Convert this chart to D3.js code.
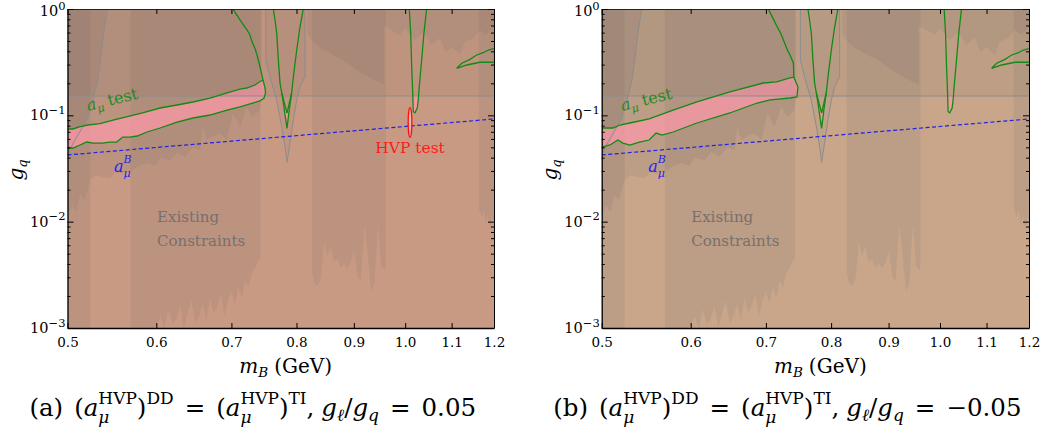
<!DOCTYPE html>
<html><head><meta charset="utf-8">
<script src="https://cdn.jsdelivr.net/npm/d3@7"></script>
<style>body{margin:0;background:#fff}</style>
</head><body><svg id="c" width="1043" height="439"></svg>
<script>
// ---------- DATA ----------
const xTicks=[0.5,0.6,0.7,0.8,0.9,1.0,1.1,1.2];
const xTickLabels=["0.5","0.6","0.7","0.8","0.9","1.0","1.1","1.2"];
const yTicks=[0.001,0.01,0.1,1];
const yTickExp=["\u22123","\u22122","\u22121","0"];

// existing-constraint columns (mass, lower edge of shading)
const colA_m=[0.5,0.524];
const colA_lo=[0.001,0.001];
const colB_m=[0.569,0.575,0.585,0.595,0.6,0.605,0.61,0.615,0.62,0.625,0.63,0.635,0.64,0.645,0.65,0.655,0.66,0.665,0.67,0.675,0.68,0.685,0.69,0.695,0.7,0.705,0.71,0.715,0.72,0.725,0.73,0.735,0.74,0.743];
const colB_lo=[0.001,0.001,0.001,0.001,0.00105,0.0013,0.001,0.0015,0.0011,0.0012,0.0016,0.001,0.0014,0.0018,0.0011,0.0013,0.0017,0.0012,0.0019,0.0014,0.0016,0.0021,0.0013,0.0018,0.0022,0.0017,0.0024,0.0019,0.0028,0.0024,0.0033,0.0037,0.0043,0.0046];
const colC_m=[0.826,0.829,0.835,0.841,0.847,0.852,0.858,0.864,0.870,0.876,0.882,0.889,0.895,0.901,0.907,0.913,0.920,0.926,0.933,0.939,0.946,0.952,0.959,0.961];
const colC_lo=[0.0034,0.0027,0.0025,0.0029,0.0065,0.0048,0.0058,0.0042,0.0045,0.0037,0.0040,0.0036,0.0043,0.0052,0.0030,0.0028,0.0095,0.0050,0.0022,0.0027,0.0095,0.0038,0.0035,0.0040];
const colD_m=[1.163,1.17,1.175,1.18,1.185,1.19,1.195,1.2];
const colD_lo=[0.0135,0.011,0.013,0.0095,0.012,0.0085,0.011,0.0105];
// mid existing constraint (0.5 - 0.745)
const midEx_m=[0.5,0.5046,0.509,0.513,0.518,0.524,0.5305,0.537,0.5456,0.5524,0.5601,0.5717,0.5802,0.5887,0.5985,0.6046,0.6171,0.626,0.6364,0.647,0.6563,0.660,0.6658,0.674,0.6838,0.6937,0.702,0.7124,0.7225,0.731,0.7423,0.745];
const midEx_lo=[0.0111,0.0143,0.0123,0.0178,0.016,0.0246,0.0275,0.0263,0.0258,0.0293,0.028,0.0306,0.034,0.0356,0.0334,0.0397,0.038,0.045,0.041,0.05,0.047,0.0777,0.0586,0.064,0.068,0.0586,0.105,0.0777,0.12,0.096,0.112,0.15];
// upper "bowl" constraint and upper-right constraint
const bowl_m=[0.818,0.8185,0.828,0.84,0.848,0.857,0.866,0.875,0.888,0.9,0.911,0.925,0.938,0.948,0.957];
const bowl_lo=[1.0,0.57,0.49,0.43,0.41,0.386,0.36,0.346,0.31,0.28,0.255,0.235,0.215,0.205,0.195];
const topR_m=[0.957,0.972,0.98,0.989,1.0,1.02,1.03,1.04,1.055,1.074,1.087,1.10,1.119,1.13,1.15,1.166,1.18,1.2];
const topR_lo=[0.70,0.634,0.60,0.57,0.66,0.511,0.56,0.60,0.459,0.533,0.394,0.439,0.369,0.489,0.533,0.634,0.57,0.677];
const hLineG=0.152;
// grey outlined regions
const leftCurve_m=[0.5,0.506,0.513,0.520,0.5267,0.532,0.5355,0.539,0.5427];
const leftCurve_g=[0.0424,0.0549,0.0704,0.0904,0.1394,0.2149,0.356,0.634,1.0];
const omegaGray_m=[0.7512,0.7512,0.7577,0.7682,0.7762,0.7814,0.7846,0.7894,0.7949,0.8004,0.8058,0.8141,0.8141];
const omegaGray_g=[1.0,0.331,0.229,0.139,0.0783,0.0508,0.0362,0.0552,0.0904,0.139,0.186,0.231,1.0];
// a_mu test contour, panel (a)
const upperA_m=[0.5,0.5057,0.513,0.516,0.5212,0.5345,0.55,0.563,0.5832,0.6046,0.626,0.647,0.6699,0.6937,0.7124,0.7225,0.7347,0.7423,0.7469];
const upperA_g=[0.0744,0.0744,0.0783,0.0793,0.0811,0.0835,0.0904,0.0964,0.1052,0.1172,0.1251,0.1335,0.1455,0.1622,0.1768,0.1807,0.1928,0.2080,0.2149];
const lowerA_m=[0.7469,0.75,0.7508,0.7485,0.7423,0.731,0.7124,0.6937,0.6699,0.647,0.626,0.6046,0.5887,0.5768,0.5684,0.5601,0.553,0.5456,0.537,0.5267,0.5201,0.513,0.5057,0.5];
const lowerA_g=[0.2149,0.181,0.162,0.1455,0.1364,0.1306,0.12,0.1122,0.1007,0.0944,0.0865,0.076,0.0697,0.0639,0.0625,0.0625,0.0561,0.0561,0.0549,0.0549,0.0561,0.0526,0.0493,0.0493];
const outerA_m=[0.7024,0.7045,0.7066,0.709,0.7124,0.715,0.7198,0.7225,0.7272,0.729,0.731,0.735,0.7378,0.7423,0.7469];
const outerA_g=[1.0,0.95,0.897,0.86,0.788,0.75,0.677,0.64,0.57,0.52,0.479,0.42,0.369,0.285,0.2149];
// a_mu test contour, panel (b)
const upperB_m=[0.5,0.5117,0.519,0.5296,0.551,0.5788,0.6077,0.6501,0.6962,0.7154,0.7354,0.7412];
const upperB_g=[0.076,0.076,0.0811,0.0847,0.0925,0.1122,0.1335,0.166,0.2014,0.206,0.2245,0.229];
const lowerB_m=[0.7412,0.7475,0.7459,0.7354,0.7061,0.6876,0.6501,0.6077,0.5788,0.5657,0.559,0.551,0.5403,0.5296,0.5222,0.5169,0.5086,0.5];
const lowerB_g=[0.229,0.1847,0.1487,0.1455,0.1400,0.1306,0.1052,0.0847,0.0697,0.0653,0.0681,0.0586,0.0561,0.0526,0.0549,0.0586,0.0526,0.0503];
const outerB_m=[0.7034,0.7100,0.7165,0.7210,0.7255,0.7314,0.7354,0.7405,0.7412];
const outerB_g=[1.0,0.82,0.677,0.60,0.511,0.4116,0.37,0.3105,0.229];
// omega and phi contours
const omegaOuter_m=[0.7629,0.7655,0.7682,0.7708,0.7734,0.7762,0.7787,0.7846,0.7882,0.7921,0.7949,0.8004,0.8058,0.8113];
const omegaOuter_g=[1.0,0.788,0.595,0.3315,0.2014,0.1622,0.1306,0.0755,0.1122,0.1622,0.2293,0.4116,0.677,1.0];
const omegaInner_m=[0.7762,0.7846,0.7921];
const omegaInner_g=[0.1622,0.105,0.1622];
const phi_m=[1.0085,1.0114,1.0135,1.0156,1.0168,1.0203,1.0251,1.0272,1.0293,1.0344,1.0393,1.0450];
const phi_g=[1.0,0.595,0.2848,0.1622,0.1082,0.1058,0.1172,0.1394,0.186,0.3315,0.595,1.0];
const blob_m=[1.2,1.1861,1.174,1.1582,1.150,1.1424,1.1231,1.1116,1.1347,1.166,1.2];
const blob_g=[0.4235,0.4116,0.388,0.3693,0.352,0.3363,0.3089,0.2771,0.2974,0.3155,0.3155];
// a_mu^B line and HVP test ellipse
const aB_m=[0.5,1.2];
const aB_g=[0.0424,0.0924];
const hvp_m=[1.0062,1.0138];
const hvp_g=[0.062,0.118];

// ---------- DRAW ----------
const FONT="'DejaVu Serif',serif";
const svg=d3.select("#c");
const yTop=9,yBot=328;
const GRAY="#646464",GA=0.12;

function rich(parent,x,y,parts,anchor,color,rotate){
  const g=parent.append("g");
  const inner=g.append("g");
  let cx=0;
  function put(p,px){
    const t=inner.append("text").attr("x",px).attr("y",p.dy||0).text(p.t)
      .attr("font-family",FONT).attr("font-size",p.size)
      .attr("font-style",p.it?"italic":"normal").attr("fill",color);
    return t.node().getComputedTextLength();
  }
  parts.forEach(p=>{
    cx+=(p.pre||0);
    if(p.stack){
      const w=Math.max(...p.stack.map(q=>put(q,cx)));
      cx+=w+(p.dx||0);
    } else {
      cx+=put(p,cx)+(p.dx||0);
    }
  });
  const off=anchor==="middle"?-cx/2:anchor==="end"?-cx:0;
  inner.attr("transform",`translate(${off},0)`);
  g.attr("transform",`translate(${x},${y})`+(rotate?` rotate(${rotate})`:""));
  return g;
}

const panels=[
  {id:"a",x0:67.5,x1:494,base:"#c99a83",hvp:true,
   up:[upperA_m,upperA_g],lo:[lowerA_m,lowerA_g],out:[outerA_m,outerA_g],label:"(a)",ratio:"0.05"},
  {id:"b",x0:601.7,x1:1029,base:"#c9a68a",hvp:false,
   up:[upperB_m,upperB_g],lo:[lowerB_m,lowerB_g],out:[outerB_m,outerB_g],label:"(b)",ratio:"\u22120.05"}
];

panels.forEach(P=>{
  const x=d3.scaleLog().domain([0.5,1.2]).range([P.x0,P.x1]);
  const y=d3.scaleLog().domain([1e-3,1]).range([yBot,yTop]);
  const defs=svg.append("defs");
  defs.append("clipPath").attr("id","clip"+P.id).append("rect")
    .attr("x",P.x0).attr("y",yTop).attr("width",P.x1-P.x0).attr("height",yBot-yTop);
  defs.append("clipPath").attr("id","low"+P.id).append("rect")
    .attr("x",P.x0).attr("y",y(hLineG)).attr("width",P.x1-P.x0).attr("height",yBot-y(hLineG));
  const plot=svg.append("g").attr("clip-path",`url(#clip${P.id})`);
  plot.append("rect").attr("x",P.x0).attr("y",yTop).attr("width",P.x1-P.x0).attr("height",yBot-yTop).attr("fill",P.base);

  const above=(ms,gs)=>d3.area().x(i=>x(ms[i])).y0(y(1)).y1(i=>y(gs[i]))(d3.range(ms.length));
  const poly=(ms,gs,close)=>d3.line().x(i=>x(ms[i])).y(i=>y(gs[i]))(d3.range(ms.length))+(close?"Z":"");
  const shade=(d,a)=>plot.append("path").attr("d",d).attr("fill",GRAY).attr("fill-opacity",a||GA);

  shade(above(colA_m,colA_lo));
  shade(above(colB_m,colB_lo));
  shade(above(colC_m,colC_lo));
  shade(above(colD_m,colD_lo));
  shade(above(midEx_m,midEx_lo));
  shade(above(bowl_m,bowl_lo));
  shade(above(topR_m,topR_lo));
  shade(poly(leftCurve_m.concat([0.5]),leftCurve_g.concat([1.0]),true));
  shade(poly(omegaGray_m,omegaGray_g,true),0.08);

  // pink allowed regions
  const PINK="#ff98ab",PA=0.7;
  const bandM=P.up[0].concat(P.lo[0]), bandG=P.up[1].concat(P.lo[1]);
  plot.append("path").attr("d",poly(bandM,bandG,true)).attr("fill",PINK).attr("fill-opacity",PA);
  const lowPink=plot.append("g").attr("clip-path",`url(#low${P.id})`);
  lowPink.append("path").attr("d",poly(omegaOuter_m.concat(omegaInner_m.slice().reverse()),omegaOuter_g.concat(omegaInner_g.slice().reverse()),true))
    .attr("fill",PINK).attr("fill-opacity",PA).attr("fill-rule","evenodd");
  lowPink.append("path").attr("d",poly(phi_m,phi_g,true)).attr("fill",PINK).attr("fill-opacity",PA);

  // top region above horizontal line
  plot.append("rect").attr("x",P.x0).attr("y",yTop).attr("width",P.x1-P.x0).attr("height",y(hLineG)-yTop)
    .attr("fill",GRAY).attr("fill-opacity",0.1);
  // grey lines
  plot.append("line").attr("x1",P.x0).attr("x2",P.x1).attr("y1",y(hLineG)).attr("y2",y(hLineG))
    .attr("stroke","#8c8c8c").attr("stroke-width",1.2);
  plot.append("path").attr("d",poly(leftCurve_m,leftCurve_g)).attr("fill","none").attr("stroke","#8c8c8c").attr("stroke-width",1);
  plot.append("path").attr("d",poly(omegaGray_m,omegaGray_g)).attr("fill","none").attr("stroke","#8c8c8c").attr("stroke-width",1);

  // green contours
  const GREEN="#138a13";
  const gl=d=>plot.append("path").attr("d",d).attr("fill","none").attr("stroke",GREEN).attr("stroke-width",1.3);
  gl(poly(P.out[0].concat(P.lo[0].slice(1)),P.out[1].concat(P.lo[1].slice(1))));
  gl(poly(P.up[0],P.up[1]));
  gl(poly(omegaOuter_m,omegaOuter_g));
  gl(poly(omegaInner_m,omegaInner_g));
  gl(poly(phi_m,phi_g));
  gl(poly(blob_m,blob_g));

  // a_mu^B line
  plot.append("path").attr("d",poly(aB_m,aB_g)).attr("fill","none").attr("stroke","#2020ee")
    .attr("stroke-width",1.2).attr("stroke-dasharray","4,2.5");

  if(P.hvp){
    const cx=(x(hvp_m[0])+x(hvp_m[1]))/2, cy=(y(hvp_g[0])+y(hvp_g[1]))/2;
    plot.append("ellipse").attr("cx",cx).attr("cy",cy)
      .attr("rx",(x(hvp_m[1])-x(hvp_m[0]))/2).attr("ry",(y(hvp_g[0])-y(hvp_g[1]))/2)
      .attr("fill","#ffd0d0").attr("fill-opacity",0.6).attr("stroke","#ff1010").attr("stroke-width",1.3);
    svg.append("text").attr("x",cx).attr("y",y(hvp_g[0])+16).attr("text-anchor","middle")
      .attr("font-family",FONT).attr("font-size",15.5).attr("fill","#ff1a1a").text("HVP test");
  }

  // labels in plot
  const dxp=P.x0-67.5;
  rich(svg,88+dxp,111,[{t:"a",it:true,size:16},{t:"\u03bc",it:true,size:11,dy:4,dx:5},{t:"test",size:16}],"start","#1f8a1f",-14);
  rich(svg,114+dxp,172,[{t:"a",it:true,size:16},{stack:[{t:"B",it:true,size:11,dy:-9},{t:"\u03bc",it:true,size:11,dy:5}]}],"start","#2424ee");
  svg.append("text").attr("x",157+dxp).attr("y",222).attr("font-family",FONT).attr("font-size",15).attr("fill","#767070").text("Existing");
  svg.append("text").attr("x",157+dxp).attr("y",246).attr("font-family",FONT).attr("font-size",15).attr("fill","#767070").text("Constraints");

  // axes
  const ax=svg.append("g");
  ax.append("g").attr("transform",`translate(0,${yBot})`)
    .call(d3.axisBottom(x).tickValues(xTicks).tickFormat((d,i)=>xTickLabels[i]).tickSizeInner(-5).tickSizeOuter(0).tickPadding(9))
    .call(g=>{g.attr("font-family",FONT);g.select(".domain").attr("stroke","#000").attr("stroke-width",1.3);g.selectAll("text").attr("font-size",13.5).attr("font-family",FONT);});
  ax.append("g").attr("transform",`translate(0,${yTop})`)
    .call(d3.axisTop(x).tickValues(xTicks).tickFormat("").tickSizeInner(-5).tickSizeOuter(0))
    .call(g=>g.select(".domain").attr("stroke","#222").attr("stroke-width",1));
  const minor=y.ticks().filter(v=>!yTicks.some(t=>Math.abs(t-v)/v<1e-6));
  [[P.x0,d3.axisLeft,1.3],[P.x1,d3.axisRight,1]].forEach(([px,fn,sw])=>{
    ax.append("g").attr("transform",`translate(${px},0)`)
      .call(fn(y).tickValues(yTicks).tickFormat("").tickSizeInner(-6).tickSizeOuter(0))
      .call(g=>g.select(".domain").attr("stroke","#000").attr("stroke-width",sw));
    ax.append("g").attr("transform",`translate(${px},0)`)
      .call(fn(y).tickValues(minor).tickFormat("").tickSizeInner(-3).tickSizeOuter(0))
      .call(g=>g.select(".domain").remove());
  });
  yTicks.forEach((v,i)=>{
    rich(svg,P.x0-2,Math.max(y(v)+5,16),[{t:"10",size:14.5},{t:yTickExp[i],size:11.5,dy:-6.5}],"end","#000");
  });
  rich(svg,(P.x0+P.x1)/2+5,373,[{t:"m",it:true,size:20},{t:"B",it:true,size:13.5,dy:4,dx:6},{t:"(GeV)",size:20}],"middle","#000");
  rich(svg,P.x0-45,170,[{t:"g",it:true,size:20},{t:"q",it:true,size:13,dy:4}],"middle","#000",-90);

  // caption
  const S=24.5,s=17,sp=11;
  rich(svg,(P.x0+P.x1)/2-28,416,[
    {t:P.label,size:S,dx:sp},{t:"(",size:S},{t:"a",it:true,size:S},
    {stack:[{t:"HVP",size:s,dy:-12},{t:"\u03bc",it:true,size:s,dy:7}]},
    {t:")",size:S},{t:"DD",size:s,dy:-12,dx:sp},{t:"=",size:S,dx:sp},{t:"(",size:S},{t:"a",it:true,size:S},
    {stack:[{t:"HVP",size:s,dy:-12},{t:"\u03bc",it:true,size:s,dy:7}]},
    {t:")",size:S},{t:"TI",size:s,dy:-12},{t:",",size:S,dx:7},{t:"g",it:true,size:S},
    {t:"\u2113",it:true,size:s,dy:5},{t:"/",size:S},{t:"g",it:true,size:S},{t:"q",it:true,size:s,dy:5,dx:sp},
    {t:"=",size:S,dx:sp},{t:P.ratio,size:S}
  ],"middle","#000");
});
</script></body></html>
